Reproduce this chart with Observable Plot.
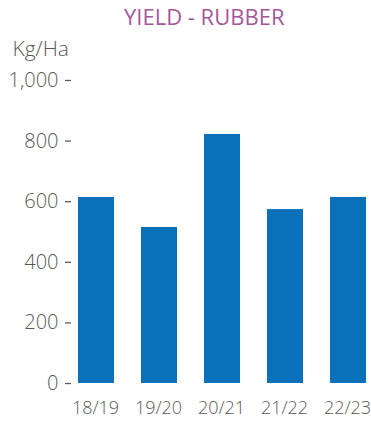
<!DOCTYPE html>
<html>
<head>
<meta charset="utf-8">
<script src="https://cdn.jsdelivr.net/npm/d3@7"></script>
<script src="https://cdn.jsdelivr.net/npm/@observablehq/plot@0.6"></script>
<style>
  html, body { margin: 0; padding: 0; background: #fff; }
  #wrap { width: 371px; height: 421px; position: relative; overflow: hidden; }
  #title { height: 32px; box-sizing: border-box; padding-top: 3px; padding-left: 124px;
    font-family: "Open Sans", sans-serif; font-weight: 400; font-size: 22px; color: #a5579a;
    line-height: 26px; white-space: nowrap; }
  svg { display: block; }
</style>
</head>
<body>
<div id="wrap">
  <div id="title">YIELD - RUBBER</div>
  <div id="chart"></div>
</div>
<script>
const seasons = ["18/19", "19/20", "20/21", "21/22", "22/23"];
const yields = [614, 515, 822, 574, 614];
const yTicks = [0, 200, 400, 600, 800, 1000];
const unitLabel = "Kg/Ha";

const data = seasons.map((s, i) => ({season: s, value: yields[i]}));

const chart = Plot.plot({
  width: 371,
  height: 389,
  marginTop: 48,
  marginBottom: 38,
  marginLeft: 73,
  marginRight: 0,
  style: {fontFamily: "'Open Sans', sans-serif", fontWeight: 300, fontSize: "20px", color: "#5a5a5a", background: "#fff"},
  x: {domain: seasons, paddingInner: 0.43, paddingOuter: 0.08, label: null},
  y: {domain: [0, 1000], label: null},
  marks: [
    Plot.barY(data, {x: "season", y: "value", fill: "#0a70b9"}),
    Plot.axisX({tickSize: 0, tickPadding: 18, fontSize: 18, dx: -1, fill: "#5a5a5a", label: null}),
    Plot.axisY({ticks: yTicks, tickSize: 6, tickPadding: 7, dx: -2, fontSize: 20, fill: "#5a5a5a", stroke: "#5a5a5a", strokeWidth: 1.3, label: null}),
    Plot.text([unitLabel], {frameAnchor: "top-left", text: d => d, textAnchor: "start", lineAnchor: "middle", dx: -61, dy: -31, fontSize: 21, fill: "#5a5a5a"})
  ]
});
document.getElementById("chart").appendChild(chart);
</script>
</body>
</html>
